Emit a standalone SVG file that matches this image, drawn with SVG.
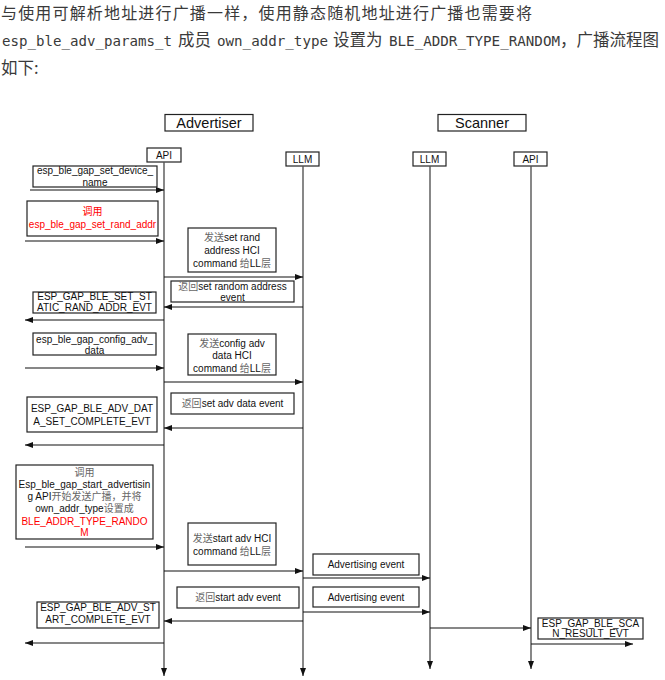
<svg xmlns="http://www.w3.org/2000/svg" width="665" height="680" viewBox="0 0 665 680">
<defs>
<style>
.hd{font-family:"Noto Sans CJK SC","Noto Sans",sans-serif;fill:#3a3a3a}
.mono{font-family:"DejaVu Sans Mono","Liberation Mono",monospace;font-size:14.2px;fill:#3a3a3a}
.box{fill:#fff;stroke:#222;stroke-width:1.2}
.t{font-family:"Liberation Sans",Arial,"Noto Sans CJK SC",sans-serif;font-size:10px;fill:#111;text-anchor:middle}
.title{font-family:"Liberation Sans",Arial,sans-serif;font-size:14.5px;fill:#111;text-anchor:middle}
.cj{fill:#666}
.red{fill:#f00}
.life{stroke:#555;stroke-width:1.4;fill:none}
.msg{stroke:#111;stroke-width:1.2;fill:none}
</style>
<marker id="ah" viewBox="0 0 8 6" refX="8" refY="3" markerWidth="8" markerHeight="6" orient="auto" markerUnits="userSpaceOnUse"><path d="M0,0 L8,3 L0,6 z" fill="#111"/></marker>
</defs>
<rect width="665" height="680" fill="#fff"/>

<g id="header">
<text class="hd" x="1" y="19" font-size="16" textLength="531" lengthAdjust="spacing">与使用可解析地址进行广播一样，使用静态随机地址进行广播也需要将</text>
<text class="mono" x="2" y="46" textLength="170" lengthAdjust="spacingAndGlyphs">esp_ble_adv_params_t</text>
<text class="hd" x="178" y="46" font-size="16.5">成员</text>
<text class="mono" x="217" y="46" textLength="111" lengthAdjust="spacingAndGlyphs">own_addr_type</text>
<text class="hd" x="333" y="46" font-size="16.5">设置为</text>
<text class="mono" x="389" y="46" textLength="171" lengthAdjust="spacingAndGlyphs">BLE_ADDR_TYPE_RANDOM</text>
<text class="hd" x="560" y="46" font-size="16.5">，广播流程图</text>
<text class="hd" x="1" y="74" font-size="16.5">如下:</text>
</g>

<g id="advertiser">
<rect class="box" x="165" y="114.5" width="88" height="16.5"/>
<text class="title" x="209" y="128">Advertiser</text>
</g>
<g id="scanner">
<rect class="box" x="438" y="114.5" width="88" height="16.5"/>
<text class="title" x="482" y="128">Scanner</text>
</g>

<g id="adv-api">
<rect class="box" x="147" y="148" width="34" height="14"/>
<text class="t" x="164" y="158.5">API</text>
</g>
<g id="adv-llm">
<rect class="box" x="286" y="152" width="33" height="14"/>
<text class="t" x="302.5" y="162.5">LLM</text>
</g>
<g id="scan-llm">
<rect class="box" x="413" y="152" width="33" height="14"/>
<text class="t" x="429.5" y="162.5">LLM</text>
</g>
<g id="scan-api">
<rect class="box" x="514" y="152" width="33" height="14"/>
<text class="t" x="530.5" y="162.5">API</text>
</g>

<g id="connectors">
<line class="life" x1="164" y1="162" x2="164" y2="676" marker-end="url(#ah)"/>
<line class="life" x1="303" y1="166" x2="303" y2="676" marker-end="url(#ah)"/>
<line class="life" x1="430" y1="166" x2="430" y2="669" marker-end="url(#ah)"/>
<line class="life" x1="531" y1="166" x2="531" y2="669" marker-end="url(#ah)"/>

<line class="msg" x1="30" y1="190" x2="164" y2="190" marker-end="url(#ah)"/>
<line class="msg" x1="25" y1="241" x2="164" y2="241" marker-end="url(#ah)"/>
<line class="msg" x1="164" y1="277" x2="303" y2="277" marker-end="url(#ah)"/>
<line class="msg" x1="303" y1="307" x2="164" y2="307" marker-end="url(#ah)"/>
<line class="msg" x1="164" y1="320" x2="25" y2="320" marker-end="url(#ah)"/>
<line class="msg" x1="25" y1="368" x2="164" y2="368" marker-end="url(#ah)"/>
<line class="msg" x1="164" y1="382" x2="303" y2="382" marker-end="url(#ah)"/>
<line class="msg" x1="303" y1="428" x2="164" y2="428" marker-end="url(#ah)"/>
<line class="msg" x1="164" y1="445" x2="25" y2="445" marker-end="url(#ah)"/>
<line class="msg" x1="25" y1="547" x2="164" y2="547" marker-end="url(#ah)"/>
<line class="msg" x1="164" y1="571" x2="303" y2="571" marker-end="url(#ah)"/>
<line class="msg" x1="303" y1="578" x2="430" y2="578" marker-end="url(#ah)"/>
<line class="msg" x1="303" y1="612" x2="430" y2="612" marker-end="url(#ah)"/>
<line class="msg" x1="303" y1="621" x2="164" y2="621" marker-end="url(#ah)"/>
<line class="msg" x1="430" y1="628" x2="531" y2="628" marker-end="url(#ah)"/>
<line class="msg" x1="164" y1="643" x2="25" y2="643" marker-end="url(#ah)"/>
<line class="msg" x1="531" y1="644" x2="633" y2="644" marker-end="url(#ah)"/>
</g>

<g id="m1">
<rect class="box" x="33" y="166" width="124" height="21"/>
<text class="t" x="95" y="174">esp_ble_gap_set_device_</text>
<text class="t" x="95" y="186">name</text>
</g>
<g id="m2">
<rect class="box" x="27" y="201" width="131" height="35"/>
<text class="t red" x="92.5" y="215">调用</text>
<text class="t red" x="92.5" y="228">esp_ble_gap_set_rand_addr</text>
</g>
<g id="m3">
<rect class="box" x="188" y="228" width="88" height="44"/>
<text class="t" x="232" y="241"><tspan class="cj">发送</tspan>set rand</text>
<text class="t" x="232" y="254">address HCI</text>
<text class="t" x="232" y="267">command <tspan class="cj">给</tspan>LL<tspan class="cj">层</tspan></text>
</g>
<g id="m4">
<rect class="box" x="171" y="281" width="123" height="21"/>
<text class="t" x="232.5" y="290"><tspan class="cj">返回</tspan>set random address</text>
<text class="t" x="232.5" y="301">event</text>
</g>
<g id="m5">
<rect class="box" x="33" y="292" width="123" height="21"/>
<text class="t" x="94.5" y="300">ESP_GAP_BLE_SET_ST</text>
<text class="t" x="94.5" y="311">ATIC_RAND_ADDR_EVT</text>
</g>
<g id="m6">
<rect class="box" x="33" y="333" width="123" height="22"/>
<text class="t" x="94.5" y="343">esp_ble_gap_config_adv_</text>
<text class="t" x="94.5" y="354">data</text>
</g>
<g id="m7">
<rect class="box" x="188" y="334" width="88" height="41"/>
<text class="t" x="232" y="347"><tspan class="cj">发送</tspan>config adv</text>
<text class="t" x="232" y="359">data HCI</text>
<text class="t" x="232" y="372">command <tspan class="cj">给</tspan>LL<tspan class="cj">层</tspan></text>
</g>
<g id="m8">
<rect class="box" x="171" y="393" width="123" height="21"/>
<text class="t" x="232.5" y="407"><tspan class="cj">返回</tspan>set adv data event</text>
</g>
<g id="m9">
<rect class="box" x="27" y="397" width="130" height="35"/>
<text class="t" x="92" y="412">ESP_GAP_BLE_ADV_DAT</text>
<text class="t" x="92" y="425">A_SET_COMPLETE_EVT</text>
</g>
<g id="m10">
<rect class="box" x="16" y="465" width="137" height="74"/>
<text class="t cj" x="84.5" y="476">调用</text>
<text class="t" x="84.5" y="488">Esp_ble_gap_start_advertisin</text>
<text class="t" x="84.5" y="500">g API<tspan class="cj">开始发送广播，并将</tspan></text>
<text class="t" x="84.5" y="512">own_addr_type<tspan class="cj">设置成</tspan></text>
<text class="t red" x="84.5" y="525">BLE_ADDR_TYPE_RANDO</text>
<text class="t red" x="84.5" y="536">M</text>
</g>
<g id="m11">
<rect class="box" x="188" y="523" width="88" height="42"/>
<text class="t" x="232" y="542"><tspan class="cj">发送</tspan>start adv HCI</text>
<text class="t" x="232" y="555">command <tspan class="cj">给</tspan>LL<tspan class="cj">层</tspan></text>
</g>
<g id="m12">
<rect class="box" x="177" y="587" width="122" height="21"/>
<text class="t" x="238" y="601"><tspan class="cj">返回</tspan>start adv event</text>
</g>
<g id="m13">
<rect class="box" x="37" y="602" width="122" height="26"/>
<text class="t" x="98" y="611">ESP_GAP_BLE_ADV_ST</text>
<text class="t" x="98" y="623">ART_COMPLETE_EVT</text>
</g>
<g id="m14">
<rect class="box" x="313" y="554" width="106" height="21"/>
<text class="t" x="366" y="568">Advertising event</text>
</g>
<g id="m15">
<rect class="box" x="313" y="587" width="106" height="20"/>
<text class="t" x="366" y="601">Advertising event</text>
</g>
<g id="m16">
<rect class="box" x="538" y="618" width="105" height="21"/>
<text class="t" x="590.5" y="627" font-size="9.5">ESP_GAP_BLE_SCA</text>
<text class="t" x="590.5" y="637" font-size="9.5">N_RESULT_EVT</text>
</g>
</svg>
